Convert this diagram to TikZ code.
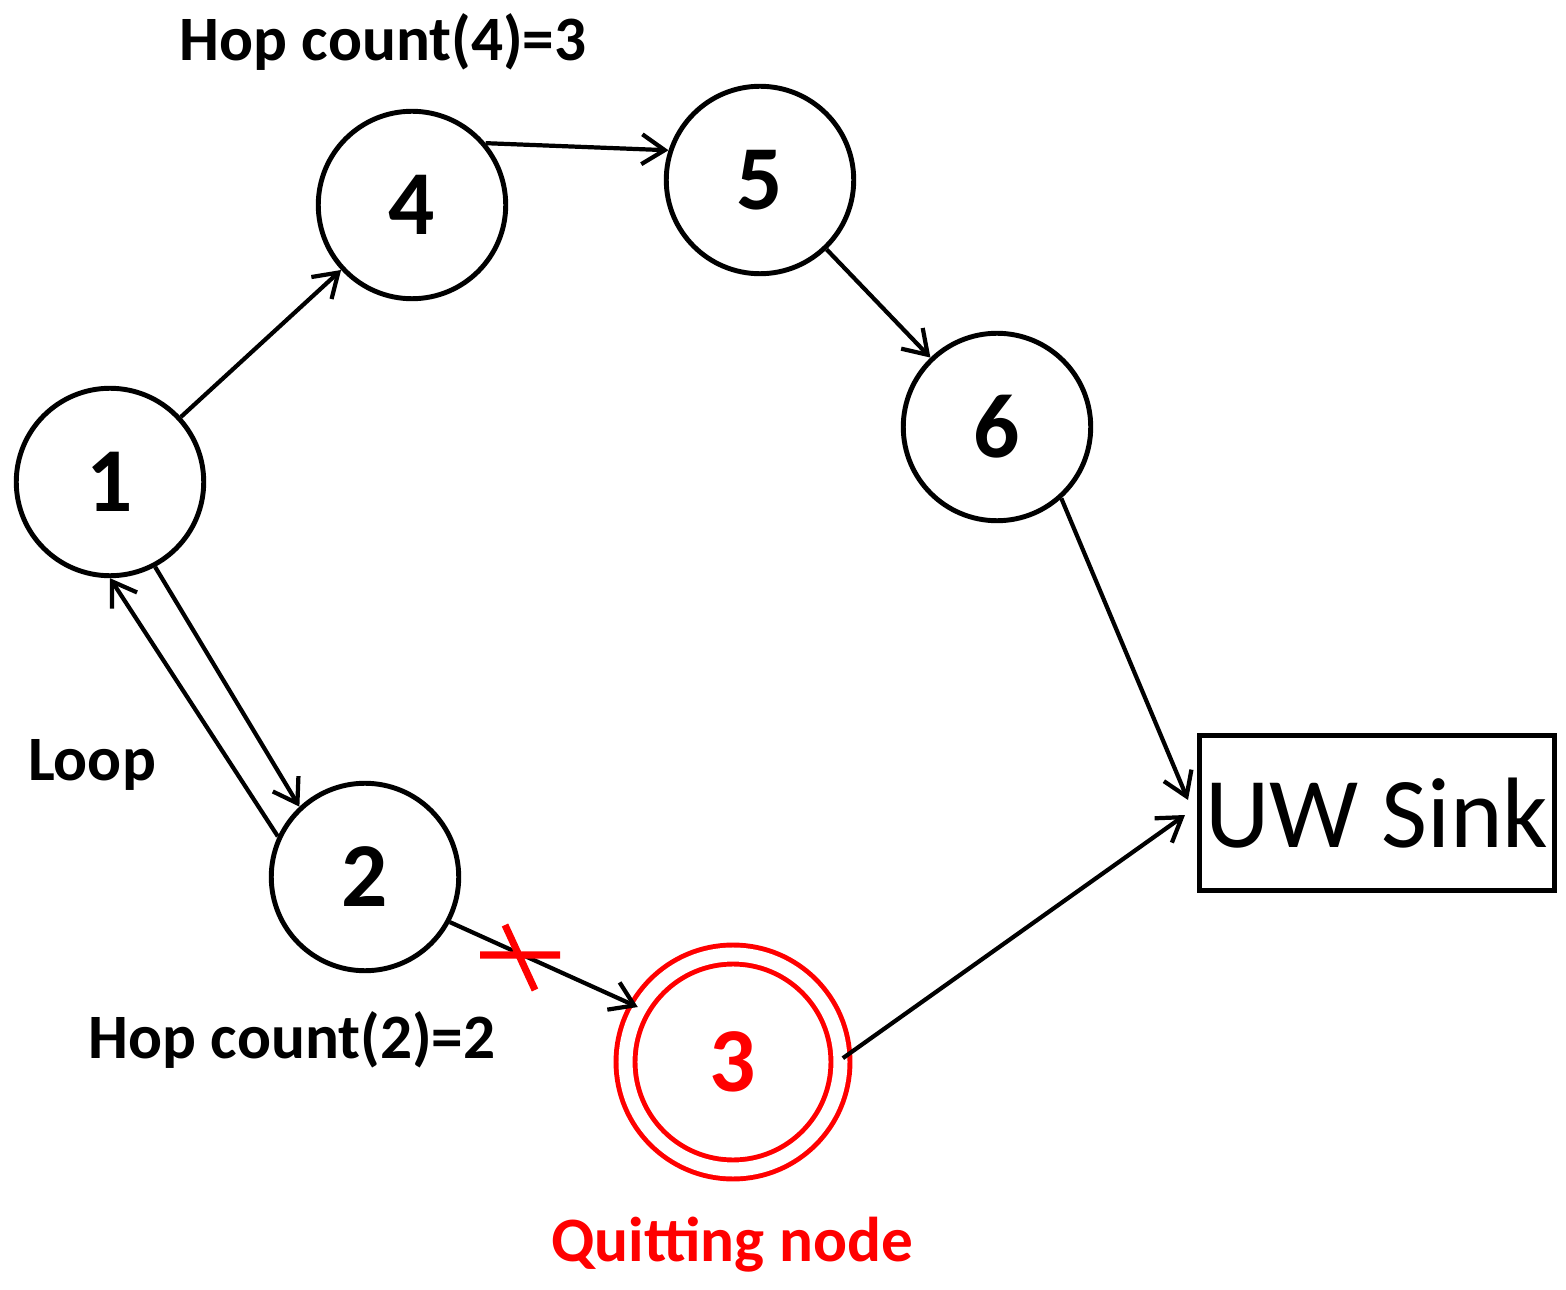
\documentclass[tikz,border=0pt]{standalone}
\usepackage{fontspec}
\setmainfont{Carlito}
\usetikzlibrary{arrows.meta,calc}
\begin{document}
\begin{tikzpicture}[x=0.02cm,y=-0.02cm,
  nd/.style={circle,draw,line width=2.8pt,minimum size=3.75cm,inner sep=0pt,font=\fontsize{52}{54}\selectfont\bfseries},
  lab/.style={font=\fontsize{36}{38}\selectfont\bfseries},
  ar/.style={line width=2.4pt,-{Straight Barb[length=13pt,width=17pt,line width=2.4pt]}}]
\useasboundingbox (0,0) rectangle (1566,1290);
\node[nd] (n1) at (110,482) {1};
\node[nd] (n4) at (412,205) {4};
\node[nd] (n5) at (760,180) {5};
\node[nd] (n6) at (997,427) {6};
\node[nd] (n2) at (365,877) {2};
\node[nd,draw=red,text=red,double=white,double distance=8pt,line width=2.8pt,minimum size=4.3cm] (n3) at (733,1062) {3};
\node[draw,line width=3pt,minimum width=7cm,minimum height=3.1cm,font=\fontsize{57}{60}\selectfont] (sink) at (1377,813) {UW Sink};
\node[lab] (h4) at (383,42) {Hop count(4)=3};
\node[lab] (lp) at (92,765) {Loop};
\node[lab] (h2) at (292,1040) {Hop count(2)=2};
\node[lab,text=red] (qn) at (732,1245) {Quitting node};
\coordinate (s1) at (1188,800);
\coordinate (s2) at (1185,815);
\draw[ar] (n1) -- (n4);
\draw[ar] (n4.40) -- (n5.162);
\draw[ar] (n5) -- (n6);
\draw[ar] (n6.-48) -- (s1);
\draw[ar] (n3.2) -- (s2);
\draw[ar] (n1.-62) -- (n2.133);
\draw[ar] (n2.155) -- (n1.-90);
\draw[ar] (n2.-28) -- (n3.150);
\coordinate (x1) at (480,955); \coordinate (x2) at (560,955);
\coordinate (x3) at (505,925); \coordinate (x4) at (535,990);
\draw[red,line width=4pt] (x1) -- (x2) (x3) -- (x4);
\end{tikzpicture}
\end{document}
